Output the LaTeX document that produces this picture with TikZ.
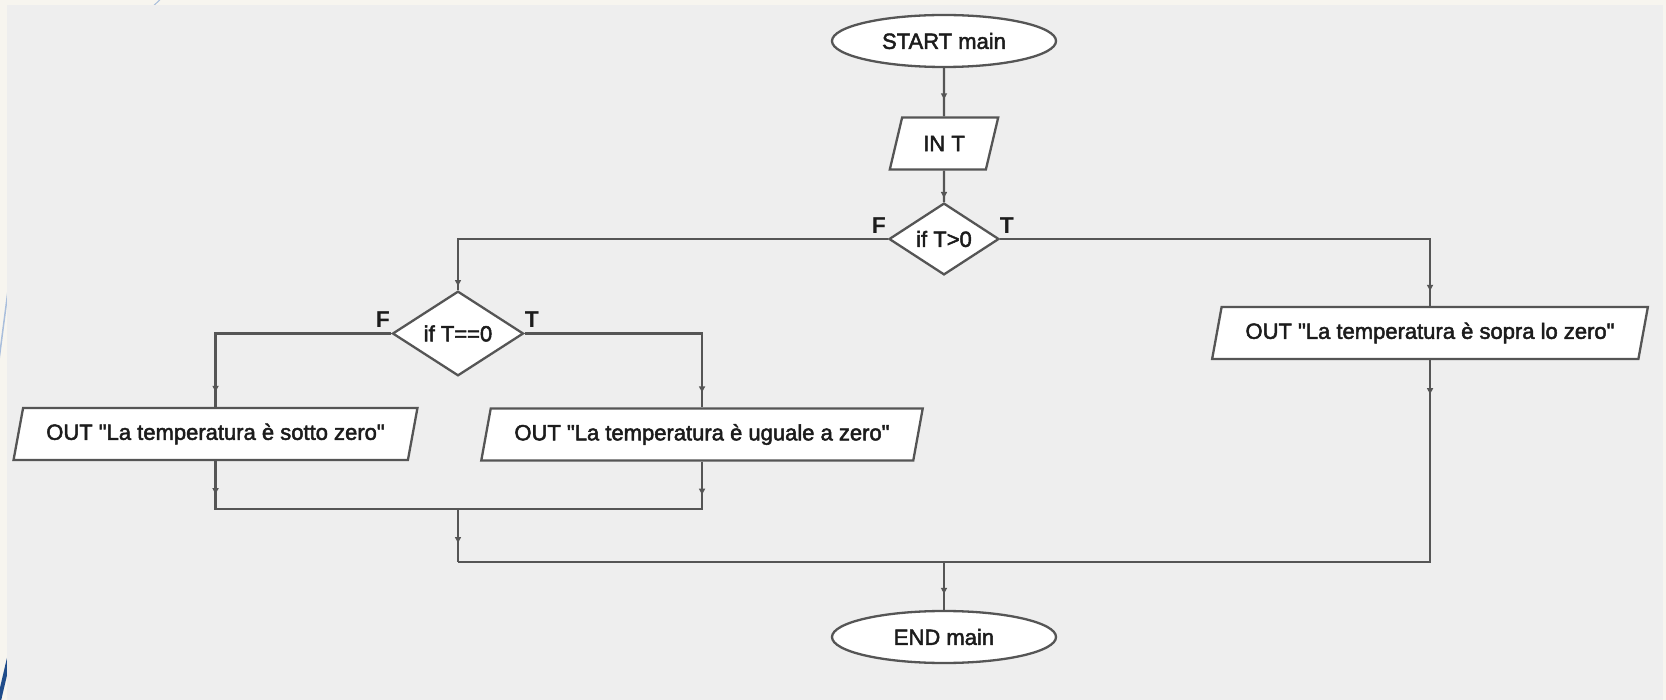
\documentclass[tikz,border=0pt]{standalone}
\usepackage{fontspec}
\setmainfont{Liberation Sans}
\newfontfamily\flowfont[FakeBold=2.2, Ligatures=TeXOff]{Liberation Sans}
\usetikzlibrary{shapes.geometric, arrows.meta, decorations.markings}

\definecolor{panel}{HTML}{EEEEEE}
\definecolor{cream}{HTML}{F7F5EF}
\definecolor{edge}{HTML}{555555}
\definecolor{ink}{HTML}{1C1C1C}
\definecolor{deco}{HTML}{1F4C8A}
\definecolor{decolight}{HTML}{A9BEDC}

\begin{document}
\begin{tikzpicture}[x=1pt, y=-1pt,
  every node/.style={font=\flowfont\fontsize{22}{24}\selectfont, text=ink},
  shapebase/.style={draw=edge, line width=2.3pt, fill=white, inner sep=0pt},
  term/.style={shapebase, ellipse, minimum width=224pt, minimum height=52pt},
  io/.style={shapebase, trapezium, trapezium left angle=68, trapezium right angle=112,
             trapezium stretches=true, minimum height=52pt},
  dec/.style={shapebase, diamond},
  flow/.style={draw=edge, color=edge, line width=2.3pt},
  tipin/.style={postaction={decorate}, decoration={markings,
      mark=at position -#1 with {\arrow{Triangle[length=6pt,width=6pt]}}}},
  tipout/.style={postaction={decorate}, decoration={markings,
      mark=at position #1 with {\arrow{Triangle[length=6pt,width=6pt]}}}},
  lbl/.style={font=\bfseries\fontsize{23}{25}\selectfont}
]
\useasboundingbox (0,0) rectangle (1666,700);
% backdrop
\fill[cream] (0,0) rectangle (1666,700);
\draw[decolight, line width=1.5pt] (-1,360) -- (9,283);
\draw[decolight, line width=1pt] (150,9) -- (163,-3);
\draw[deco, line width=4pt] (-2,705) -- (9,658);
\fill[panel] (7,5) rectangle (1663,700);

% nodes
\node[term] (start) at (944,41) {START main};
\node[io, minimum width=109pt] (int) at (944,143.5) {IN T};
\node[dec, minimum width=110pt, minimum height=65pt] (d1) at (944,239) {if T>0};
\node[dec, minimum width=131pt, minimum height=75pt] (d2) at (458,333.5) {if T==0};
\node[io, minimum width=405pt] (o1) at (215.5,434) {OUT "La temperatura è sotto zero"};
\node[io, minimum width=442pt] (o2) at (702,434.5) {OUT "La temperatura è uguale a zero"};
\node[io, minimum width=438pt] (o3) at (1430,333) {OUT "La temperatura è sopra lo zero"};
\node[term] (end) at (944,637) {END main};

% branch labels
\node[lbl] (fa) at (879,226) {F};
\node[lbl] (ta) at (1007,226) {T};
\node[lbl] (fb) at (383,320) {F};
\node[lbl] (tb) at (532,320) {T};

% connectors
\draw[flow, tipin=17pt] (start.south) -- (int.north);
\draw[flow, tipin=4pt] (int.south) -- (d1.north);
\draw[flow, tipin=4pt] (d1.west) -| (d2.north);
\draw[flow, tipin=15pt] (d1.east) -| (o3.north);
\draw[flow, tipin=15pt] (d2.west) -| (o1.north);
\draw[flow, tipin=15pt] (d2.east) -| (o2.north);
\coordinate (m1) at (d2.center |- 0,509);
\coordinate (m2) at (d2.center |- 0,562);
\coordinate (m3) at (end.north |- m2);
\draw[flow, tipout=33pt] (o1.south) |- (m1);
\draw[flow, tipout=33pt] (o2.south) |- (m1);
\draw[flow, tipin=19pt] (m1) -- (m2);
\draw[flow, tipout=34pt] (o3.south) |- (m2);
\draw[flow, tipin=16pt] (m3) -- (end.north);
\end{tikzpicture}
\end{document}
